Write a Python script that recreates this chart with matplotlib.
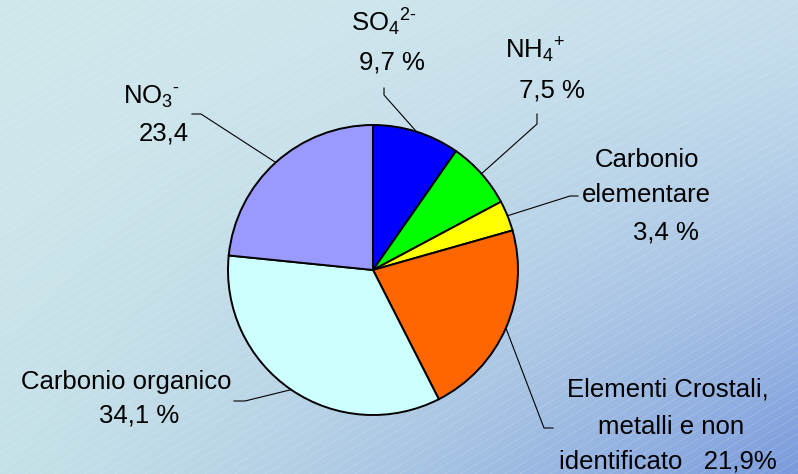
import numpy as np
import matplotlib
matplotlib.use("Agg")
import matplotlib.pyplot as plt

plt.rcParams['font.family'] = ['Liberation Sans', 'DejaVu Sans']
plt.rcParams['mathtext.fontset'] = 'custom'
plt.rcParams['mathtext.rm'] = 'Liberation Sans'
plt.rcParams['mathtext.it'] = 'Liberation Sans'
plt.rcParams['mathtext.default'] = 'regular'

# composition of the particulate, percent, clockwise from the top
names = [r'SO$_4$$^{2\text{-}}$', r'NH$_4$$^{\text{+}}$', 'Carbonio\nelementare',
         'Elementi Crostali,\nmetalli e non\nidentificato',
         'Carbonio organico', r'NO$_3$$^{\text{-}}$']
values = [9.7, 7.5, 3.4, 21.9, 34.1, 23.4]
colors = ['#0000ff', '#00ff00', '#ffff00', '#ff6600', '#ccffff', '#9999ff']

W, H = 798, 474
cx, cy, r = 373, H - 270, 145

fig = plt.figure(figsize=(W / 100, H / 100), dpi=100)
ax = fig.add_axes([0, 0, 1, 1])

# background: pale cyan fading into blue towards the lower right corner
u = np.linspace(0, 1, 400)[None, :]
v = np.linspace(0, 1, 240)[:, None]
tl = np.array([208, 232, 236]) / 255
tr = np.array([198, 222, 236]) / 255
bl = np.array([196, 224, 232]) / 255
br = np.array([122, 154, 220]) / 255
uu = u[..., None] ** 1.4
vv = v[..., None] ** 1.4
grad = (tl * (1 - uu) * (1 - vv) + tr * uu * (1 - vv)
        + bl * (1 - uu) * vv + br * uu * vv)
ax.imshow(grad, extent=(0, W, 0, H), origin='upper', aspect='auto', zorder=0)

# faint diagonal streaks
for y0 in np.arange(-W, H, 9):
    ax.plot([0, W], [y0, y0 + 0.6 * W], color='white', lw=0.4, alpha=0.25, zorder=1)

wedges, _ = ax.pie(values, colors=colors, startangle=90, counterclock=False,
                   center=(cx, cy), radius=r,
                   wedgeprops=dict(edgecolor='black', linewidth=1.4))
for w in wedges:
    w.set_zorder(3)

# elbow of each leader line and label line positions (pixels from the top-left)
elbows = [[(384, 88), (384, 95)],
          [(537, 114), (537, 124)],
          [(578, 196), (570, 196)],
          [(553, 428), (544, 428)],
          [(234, 401), (245, 401)],
          [(192, 114), (201, 114)]]
line_pos = [[(384, 22), (392, 62)],
            [(535, 50), (552, 90)],
            [(647, 160), (646, 195), (666, 232)],
            [(668, 390), (671, 427), (668, 462)],
            [(126, 382), (139, 415)],
            [(151, 97), (164, 133)]]

for w, name, val, elb, pos in zip(wedges, names, values, elbows, line_pos):
    ang = np.deg2rad((w.theta1 + w.theta2) / 2)
    px, py = cx + r * np.cos(ang), cy + r * np.sin(ang)
    xs = [e[0] for e in elb] + [px]
    ys = [H - e[1] for e in elb] + [py]
    ax.plot(xs, ys, color='black', lw=0.8, zorder=2)

    num = f"{val:.1f}".replace('.', ',')
    if name.startswith('NO'):
        vtxt = num
    elif name.startswith('Elementi'):
        vtxt = 'identificato   ' + num + '%'
    else:
        vtxt = num + ' %'
    lines = name.split('\n')
    if name.startswith('Elementi'):
        lines = lines[:2] + [vtxt]
    else:
        lines = lines + [vtxt]
    for s, (tx, ty) in zip(lines, pos):
        ax.text(tx, H - ty, s, ha='center', va='center', fontsize=18.5, zorder=4)

ax.set_xlim(0, W)
ax.set_ylim(0, H)
ax.set_aspect('auto')
ax.axis('off')
fig.savefig('out.png', dpi=100)
